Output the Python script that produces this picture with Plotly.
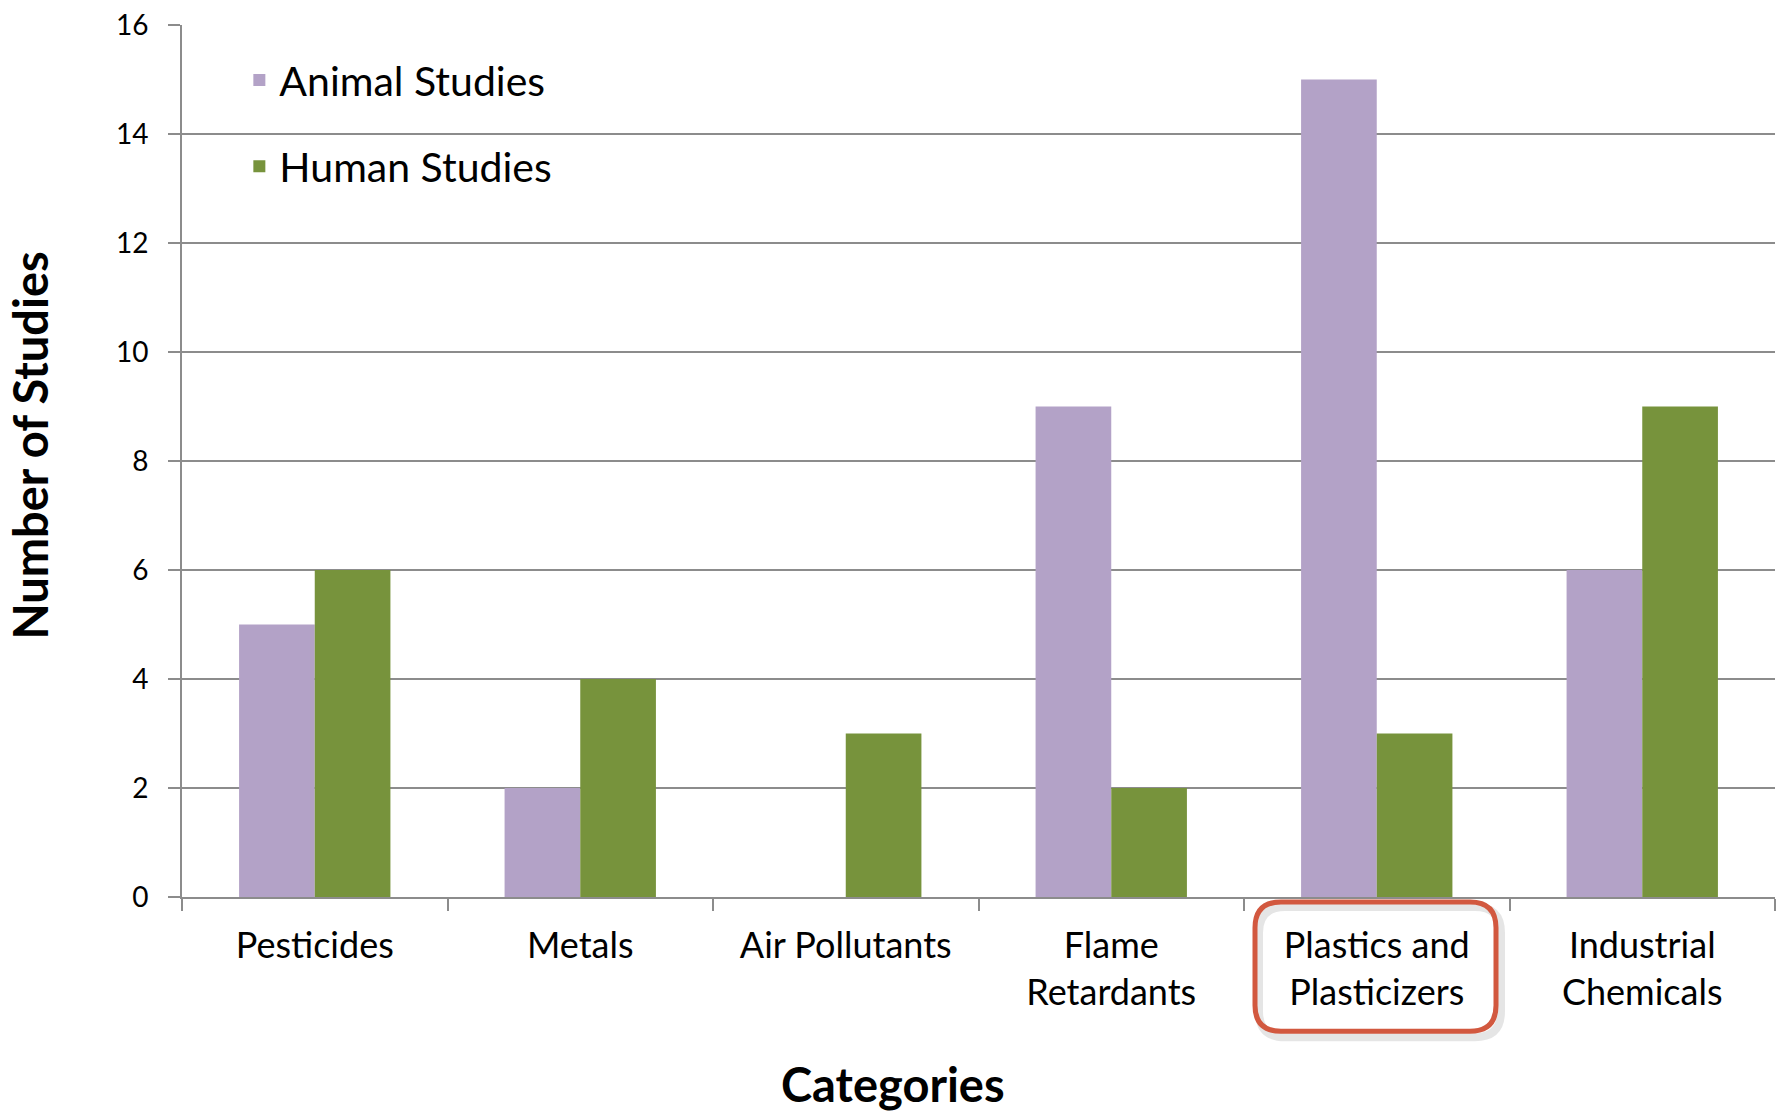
import plotly.graph_objects as go

categories = ["Pesticides", "Metals", "Air Pollutants", "Flame<br>Retardants",
              "Plastics and<br>Plasticizers", "Industrial<br>Chemicals"]
animal_studies = [5, 2, 0, 9, 15, 6]
human_studies = [6, 4, 3, 2, 3, 9]
y_ticks = [0, 2, 4, 6, 8, 10, 12, 14, 16]

PURPLE = "#B3A2C7"
GREEN = "#77933C"
GRID = "#8C8C8C"
FONT = "Lato"

fig = go.Figure()
fig.add_trace(go.Bar(x=categories, y=animal_studies, name="Animal Studies",
                     marker=dict(color=PURPLE, line=dict(width=0)), legendgroup="a"))
fig.add_trace(go.Bar(x=categories, y=human_studies, name="Human Studies",
                     marker=dict(color=GREEN, line=dict(width=0)), legendgroup="h"))

W, H = 1782, 1111
ML, MR, MT, MB = 182, 7, 20, 214
PW = W - ML - MR
PH = H - MT - MB

fig.update_layout(
    width=W, height=H,
    margin=dict(l=ML, r=MR, t=MT, b=MB, pad=0),
    paper_bgcolor="white", plot_bgcolor="white",
    barmode="group", bargap=0.43, bargroupgap=0,
    font=dict(family=FONT, color="black"),
    showlegend=True,
    legend=dict(x=0.036, y=0.975, xanchor="left", yanchor="top",
                font=dict(size=41, family=FONT, color="black"),
                bgcolor="rgba(0,0,0,0)", tracegroupgap=30,
                traceorder="grouped"),
    xaxis=dict(showgrid=False, showline=True, linecolor=GRID, linewidth=2,
               ticks="outside", tickson="boundaries", ticklen=12, tickwidth=2,
               tickcolor=GRID, tickfont=dict(size=36, family=FONT, color="black"),
               ticklabelstandoff=16, zeroline=False),
    yaxis=dict(range=[0, 16], tickvals=y_ticks, showgrid=True, gridcolor=GRID,
               gridwidth=2, showline=True, linecolor=GRID, linewidth=2,
               ticks="outside", ticklen=12, tickwidth=2, tickcolor=GRID,
               tickfont=dict(size=28, family=FONT, color="black"),
               ticklabelstandoff=14, zeroline=False),
)

# axis titles
fig.add_annotation(text="<b>Categories</b>", xref="paper", yref="paper",
                   x=(893 - ML) / PW, y=(MT + PH - 1085) / PH, showarrow=False,
                   font=dict(size=47, family=FONT, color="black"),
                   xanchor="center", yanchor="middle")
fig.add_annotation(text="<b>Number of Studies</b>", xref="paper", yref="paper",
                   x=(30 - ML) / PW, y=(MT + PH - 443) / PH, showarrow=False,
                   textangle=-90,
                   font=dict(size=47, family=FONT, color="black"),
                   xanchor="center", yanchor="middle")

# red rounded highlight box around "Plastics and Plasticizers"
def rounded_path(x0, y0, x1, y1, r):
    # pixel coords -> paper coords
    def px(x):
        return (x - ML) / PW
    def py(y):
        return (MT + PH - y) / PH
    return (f"M {px(x0 + r)},{py(y0)} L {px(x1 - r)},{py(y0)} "
            f"Q {px(x1)},{py(y0)} {px(x1)},{py(y0 + r)} "
            f"L {px(x1)},{py(y1 - r)} Q {px(x1)},{py(y1)} {px(x1 - r)},{py(y1)} "
            f"L {px(x0 + r)},{py(y1)} Q {px(x0)},{py(y1)} {px(x0)},{py(y1 - r)} "
            f"L {px(x0)},{py(y0 + r)} Q {px(x0)},{py(y0)} {px(x0 + r)},{py(y0)} Z")

fig.add_shape(type="path", xref="paper", yref="paper",
              path=rounded_path(1259, 907, 1501, 1038, 26),
              line=dict(color="rgba(0,0,0,0.10)", width=8), layer="above")
fig.add_shape(type="path", xref="paper", yref="paper",
              path=rounded_path(1255, 902, 1496, 1032, 26),
              line=dict(color="#D2583F", width=5), layer="above")

fig.write_html("out.html")
